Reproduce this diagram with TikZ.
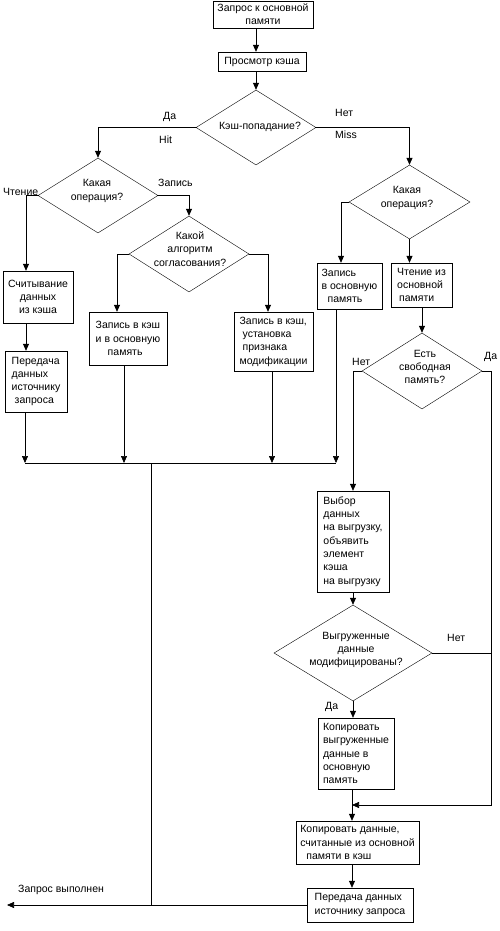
\documentclass[tikz,border=0pt]{standalone}
\usepackage{fontspec}
\setmainfont{Liberation Sans}
\usepackage{tikz}
\usetikzlibrary{calc,shapes.geometric,arrows.meta}

\begin{document}
\begin{tikzpicture}[x=1pt, y=-1pt, font=\fontsize{10.5}{13.3}\selectfont]

        % Styles for the blocks, the questions and the small labels
        \tikzset{
            box/.style={draw, rectangle, inner sep=1.5pt, align=center},
            decision/.style={draw, diamond, inner sep=0pt},
            txt/.style={inner sep=0pt, align=center},
            tag/.style={inner sep=0pt, anchor=west},
            arr/.style={-{Triangle[length=7pt,width=6pt]}}
        }

        \useasboundingbox (0,0) rectangle (500,931);

        % Lanes where the arrows do not leave a block in its middle
        \coordinate (lnA) at (26,0);
        \coordinate (lnB) at (117,0);
        \coordinate (lnC) at (124,0);
        \coordinate (lnD) at (268,0);
        \coordinate (lnE) at (272,0);
        \coordinate (lnF) at (341,0);

        % Collecting line and the junctions of the miss branch
        \coordinate (busL) at (25,463);
        \coordinate (busR) at (336,463);
        \coordinate (busT) at (151,463);
        \coordinate (join) at (352,805);
        \coordinate (rj) at (491,805);
        \coordinate (done) at (7,905);

        % Blocks
        \node[box, minimum width=100, minimum height=27] (start) at (263,14.5) {Запрос к основной\\памяти};
        \node[box, minimum width=88, minimum height=19] (view) at (262,61.5) {Просмотр кэша};
        \node[box, minimum width=70, minimum height=52] (readC) at (38,297) {Считывание\\данных\\из кэша};
        \node[box, minimum width=62, minimum height=61, align=left] (send1) at (36,381.5) {Передача\\данных\\источнику\\\hspace{3pt}запроса};
        \node[box, minimum width=78, minimum height=53, align=left] (wt) at (128,338.5) {Запись в кэш\\и в основную\\\hspace{12pt}память};
        \node[box, minimum width=79, minimum height=59, align=left] (wb) at (273.5,341.5) {Запись в кэш,\\\hspace{3pt}установка\\\hspace{3pt}признака\\модификации};
        \node[box, minimum width=65, minimum height=46, align=left] (wmem) at (349.5,286) {Запись\\в основную\\\hspace{6pt}память};
        \node[box, minimum width=61, minimum height=44, align=left] (rmem) at (421.5,285) {Чтение из\\основной\\\hspace{2pt}памяти};
        \node[box, minimum width=72, minimum height=101, align=left] (evict) at (353,541.5) {Выбор\\данных\\на выгрузку,\\объявить\\элемент\\кэша\\на выгрузку};
        \node[box, minimum width=76, minimum height=71, align=left] (copyout) at (356,753.5) {Копировать\\выгруженные\\данные в\\основную\\память};
        \node[box, minimum width=123, minimum height=43, align=left] (copyin) at (357.5,842.5) {Копировать данные,\\считанные из основной\\\hspace{6pt}памяти в кэш};
        \node[box, minimum width=106, minimum height=34, align=left] (send2) at (360,905) {Передача данных\\источнику запроса};

        % Questions
        \node[decision, minimum width=120, minimum height=75] (hit) at (256,127.5) {};
        \node[decision, minimum width=120, minimum height=75] (opL) at (98,195.5) {};
        \node[decision, minimum width=120, minimum height=76] (alg) at (189,254) {};
        \node[decision, minimum width=121, minimum height=74] (opR) at (409.5,202) {};
        \node[decision, minimum width=120, minimum height=76] (free) at (422,371) {};
        \node[decision, minimum width=158, minimum height=96] (mod) at (353,653) {};

        \node[txt] (hitT) at (260,127) {Кэш-попадание?};
        \node[txt] (opLT) at (97,191) {Какая\\операция?};
        \node[txt] (algT) at (190,249) {Какой\\алгоритм\\согласования?};
        \node[txt] (opRT) at (407,198) {Какая\\операция?};
        \node[txt] (freeT) at (425,367) {Есть\\свободная\\память?};
        \node[txt] (modT) at (356,650) {Выгруженные\\данные\\модифицированы?};

        % Branch labels
        \node[tag] (yes1) at (163,117) {Да};
        \node[tag] (hitL) at (159,140) {Hit};
        \node[tag] (no1) at (335,113) {Нет};
        \node[tag] (missL) at (335,135) {Miss};
        \node[tag] (readL) at (3,192) {Чтение};
        \node[tag] (writeL) at (158,183) {Запись};
        \node[tag] (no2) at (352,362) {Нет};
        \node[tag] (yes2) at (484,357) {Да};
        \node[tag] (no3) at (447,638) {Нет};
        \node[tag] (yes3) at (325,707) {Да};
        \node[tag] (doneL) at (18,890) {Запрос выполнен};

        \begin{scope}[line width=0.7pt]
            % hit branch
            \draw[arr] (start.south -| hit.north) -- (view.north -| hit.north);
            \draw[arr] (view.south -| hit.north) -- (hit.north);
            \draw[arr] (hit.west) -| (opL.north);
            \draw[arr] (hit.east) -| (opR.north);
            \draw[arr] (opL.west) -| (readC.north -| lnA);
            \draw[arr] (readC.south -| lnA) -- (send1.north -| lnA);
            \draw[arr] (opL.east) -| (alg.north);
            \draw[arr] (alg.west) -| (wt.north -| lnB);
            \draw[arr] (alg.east) -| (wb.north -| lnD);

            % all finished requests meet here
            \draw (busL) -- (busR);
            \draw[arr] (send1.south -| busL) -- (busL);
            \draw[arr] (wt.south -| lnC) -- (busL -| lnC);
            \draw[arr] (wb.south -| lnE) -- (busL -| lnE);
            \draw[arr] (wmem.south -| busR) -- (busR);
            \draw (busT) -- (busT |- send2.west);

            % miss branch
            \draw[arr] (opR.west) -| (wmem.north -| lnF);
            \draw[arr] (opR.south) -- (rmem.north -| opR.south);
            \draw[arr] (rmem.south -| free.north) -- (free.north);
            \draw[arr] (free.west) -| (evict.north);
            \draw[arr] (evict.south) -- (mod.north);
            \draw[arr] (mod.south) -- (copyout.north -| mod.south);
            \draw (copyout.south -| join) -- (join);
            \draw[arr] (free.east) -| (rj) -- (join);
            \draw (mod.east) -- (mod.east -| rj);
            \draw[arr] (join) -- (copyin.north -| join);
            \draw[arr] (copyin.south -| join) -- (send2.north -| join);
            \draw[arr] (send2.west) -- (done);
        \end{scope}

\end{tikzpicture}
\end{document}
